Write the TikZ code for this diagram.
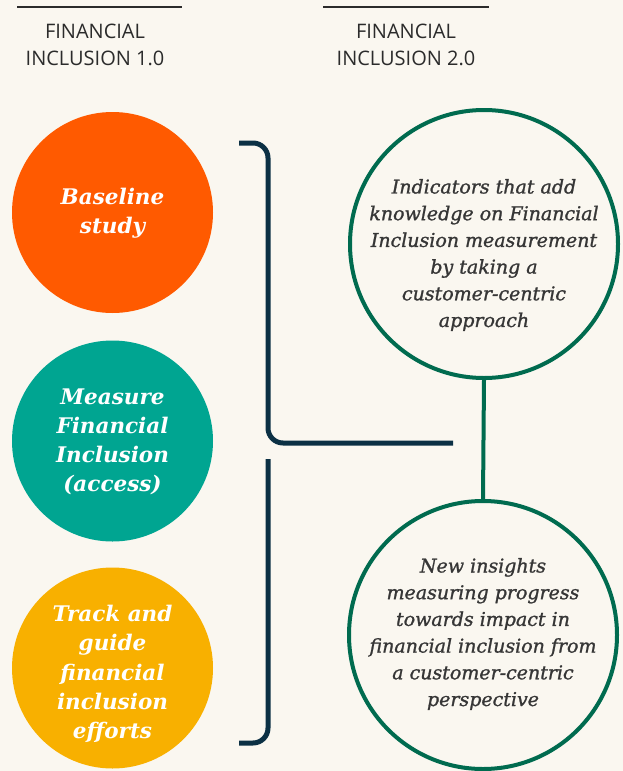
\documentclass[tikz,border=0pt]{standalone}
\usepackage{fontspec}
\setmainfont{DejaVu Serif}
\newfontfamily\headfont{Open Sans}
\newfontfamily\ringfont[ItalicFeatures={FakeBold=1.2}]{DejaVu Serif}

\definecolor{bgcream}{HTML}{FAF7F0}
\definecolor{orangeC}{HTML}{FF5A00}
\definecolor{tealC}{HTML}{00A591}
\definecolor{yellowC}{HTML}{F8B000}
\definecolor{greenC}{HTML}{006B4F}
\definecolor{navyC}{HTML}{0B3044}
\definecolor{inkC}{HTML}{363636}
\definecolor{headC}{HTML}{2B2B2B}

\tikzset{
  headrule/.style={draw=headC, line width=2pt},
  headtext/.style={font=\headfont\fontsize{20}{27}\selectfont, text=headC, align=center, inner sep=0pt},
  solidcirc/.style={circle, minimum size=201pt, inner sep=0pt},
  disctext/.style={text=white, align=center, inner sep=0pt,
    font=\bfseries\itshape\fontsize{21.5}{29.2}\selectfont},
  ringcirc/.style={circle, draw=greenC, line width=4pt, minimum size=268pt, inner sep=0pt},
  ringtext/.style={text=inkC, align=center, inner sep=0pt,
    font=\ringfont\itshape\fontsize{19}{26.7}\selectfont},
  bracketline/.style={draw=navyC, line width=5pt, rounded corners=15pt},
  linkline/.style={draw=greenC, line width=4pt}
}

\begin{document}
\begin{tikzpicture}[x=1pt,y=-1pt]
  \fill[bgcream] (0,0) rectangle (623,771);
  \useasboundingbox (0,0) rectangle (623,771);

  % column headings
  \coordinate (hlA) at (17,7);  \coordinate (hlB) at (182,7);
  \coordinate (hrA) at (323,7); \coordinate (hrB) at (489,7);
  \draw[headrule] (hlA) -- (hlB);
  \draw[headrule] (hrA) -- (hrB);
  \node[headtext] (headL) at (95,45) {FINANCIAL\\INCLUSION 1.0};
  \node[headtext] (headR) at (406,45) {FINANCIAL\\INCLUSION 2.0};

  % left column: filled discs
  \node[solidcirc, fill=orangeC] (base) at (112.5,212.5) {};
  \node[solidcirc, fill=tealC] (meas) at (112.5,441) {};
  \node[solidcirc, fill=yellowC] (track) at (112.5,668) {};
  \node[disctext] (baseT) at ([yshift=-1pt]base.center) {Baseline\\study};
  \node[disctext] (measT) at ([yshift=-1pt]meas.center) {Measure\\Financial\\Inclusion\\(access)};
  \node[disctext] (trackT) at ([yshift=-6pt]track.center) {Track and\\guide\\financial\\inclusion\\efforts};

  % bracket gathering the left column
  \coordinate (brTop) at (239,143);
  \coordinate (brTopC) at (268,143);
  \coordinate (brMidC) at (268,443);
  \coordinate (brJoin) at (453,443);
  \coordinate (brLow) at (268,459);
  \coordinate (brBotC) at (268,743);
  \coordinate (brBot) at (239,743);
  \draw[bracketline] (brTop) -- (brTopC) -- (brMidC) -- (brJoin);
  \draw[bracketline] (brLow) -- (brBotC) -- (brBot);

  % right column: outlined rings
  \node[ringcirc] (ind) at (484,244) {};
  \node[ringcirc] (ins) at (483,635) {};
  \node[ringtext] (indT) at ([yshift=-11pt]ind.center) {Indicators that add\\knowledge on Financial\\Inclusion measurement\\by taking a\\customer-centric\\approach};
  \node[ringtext] (insT) at ([yshift=1pt]ins.center) {New insights\\measuring progress\\towards impact in\\financial inclusion from\\a customer-centric\\perspective};
  \draw[linkline] (ind.south) -- (ins.north);
\end{tikzpicture}
\end{document}
